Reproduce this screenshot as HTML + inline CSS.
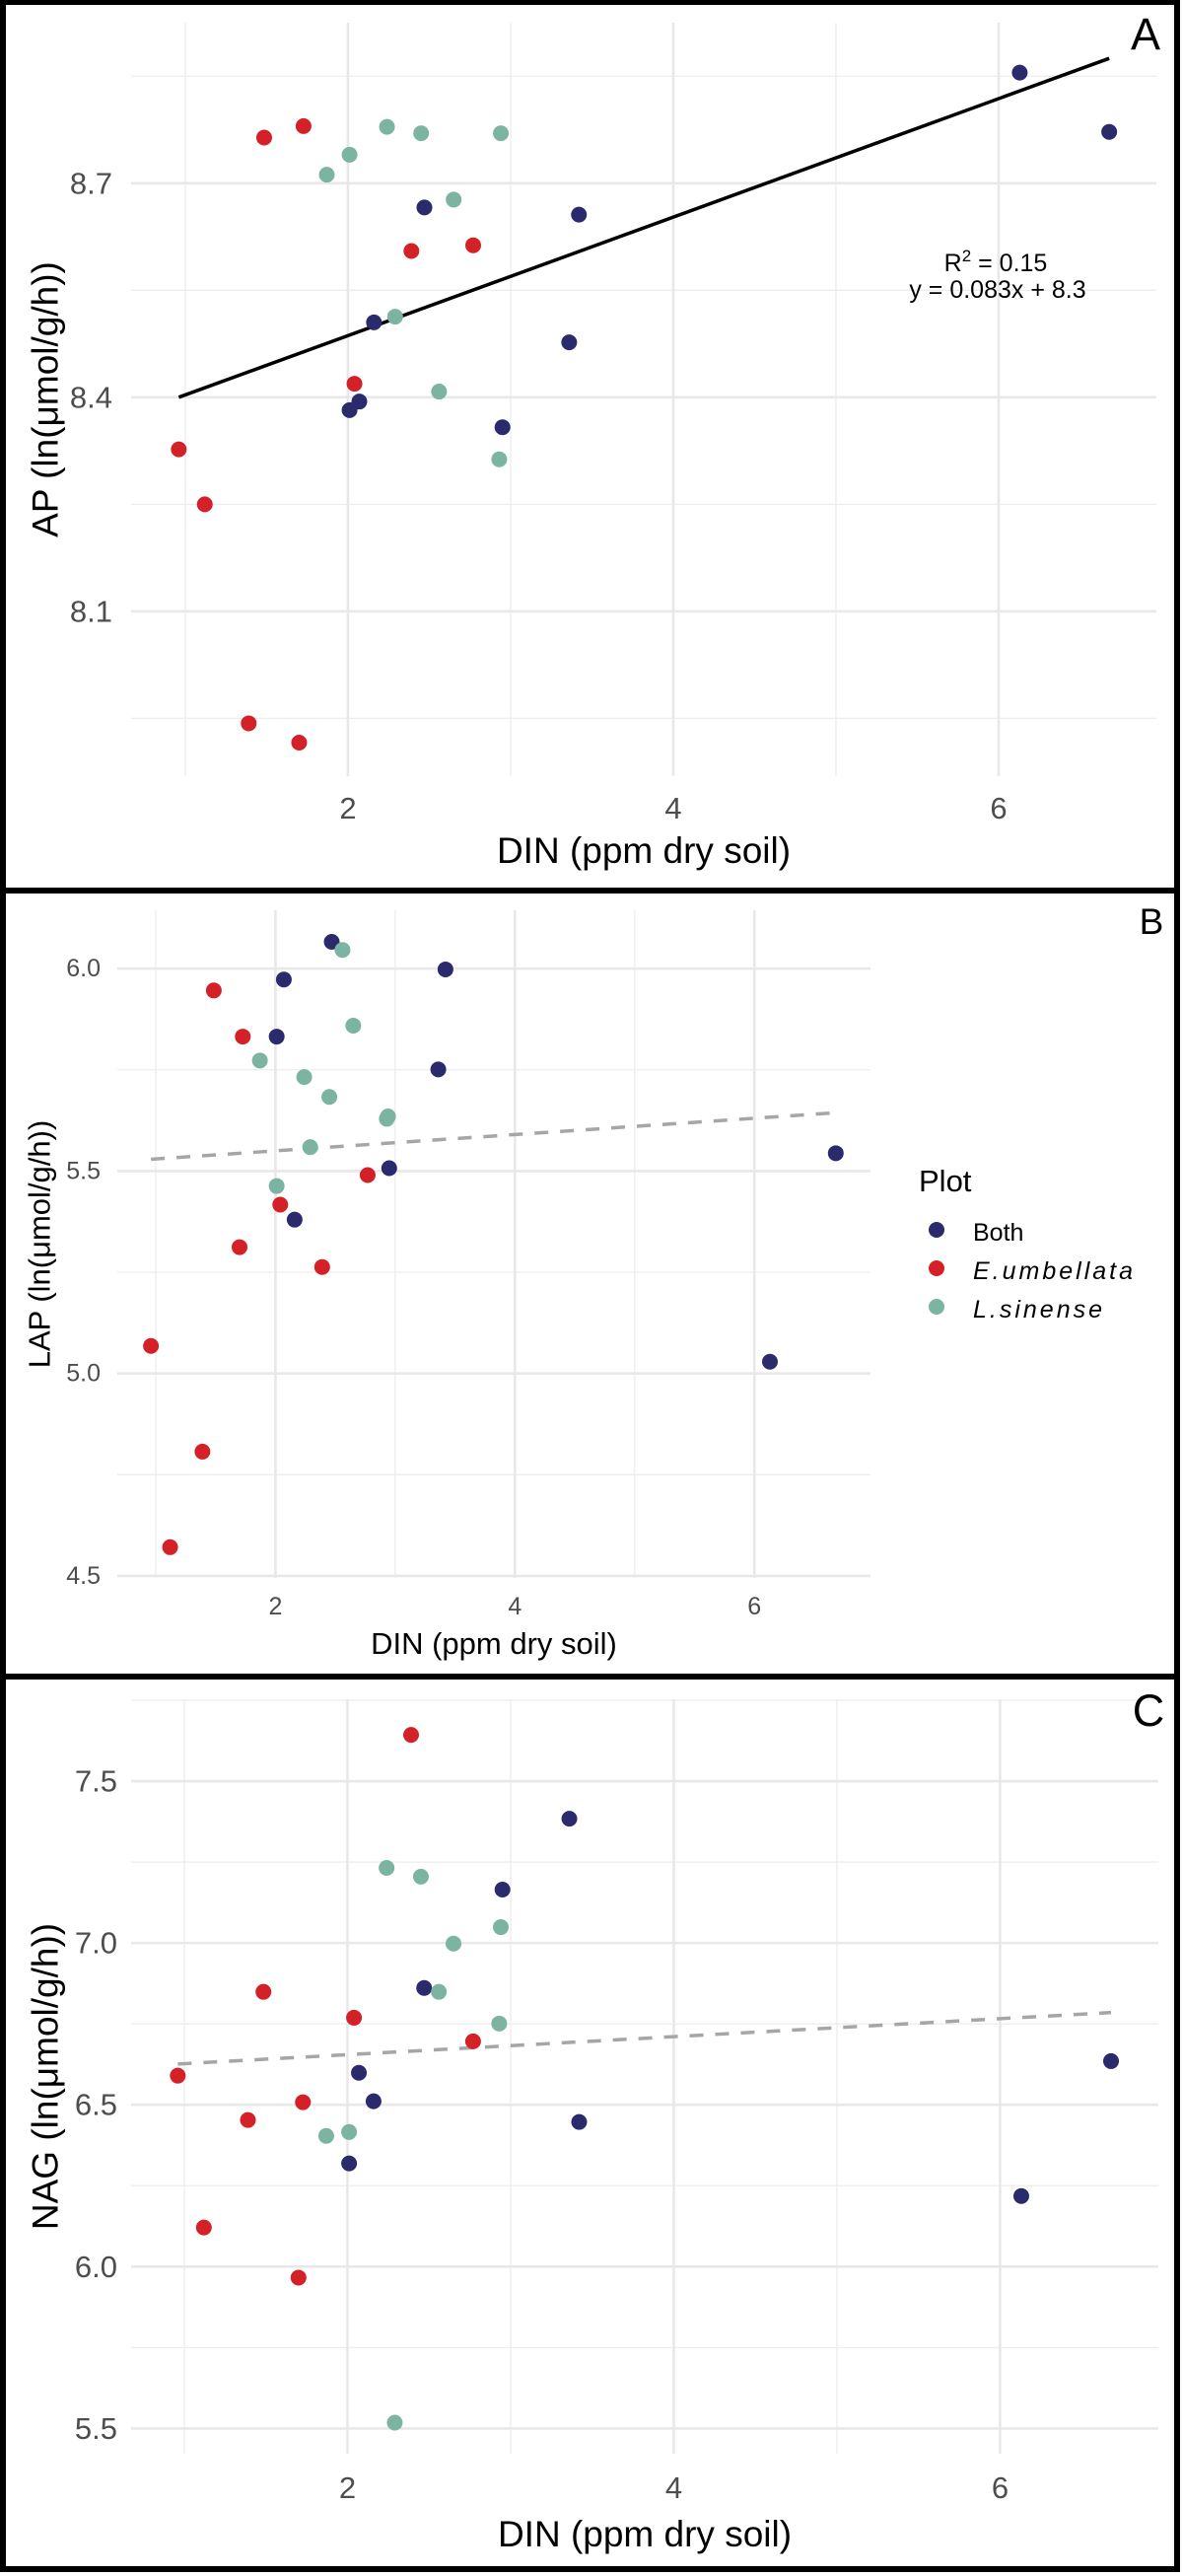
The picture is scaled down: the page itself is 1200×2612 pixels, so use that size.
<!DOCTYPE html>
<html><head><meta charset="utf-8"><title>DIN vs enzyme activity</title>
<style>
html,body{margin:0;padding:0;background:#fff;}
svg{display:block;font-family:"Liberation Sans",Arial,sans-serif;}
</style></head>
<body>
<svg id="fig" width="1200" height="2612" viewBox="0 0 1200 2612" xmlns="http://www.w3.org/2000/svg">
<rect x="0" y="0" width="1200" height="2612" fill="#fff"/>
</svg>
<script>
// ---- data (DIN per plot group; shared by all panels) ----
const dinBoth = [2.01, 2.07, 2.16, 2.47, 2.95, 3.36, 3.42, 6.13, 6.68];
const dinEumb = [0.96, 1.12, 1.39, 1.485, 1.70, 1.727, 2.04, 2.39, 2.77];
const dinLsin = [1.87, 2.01, 2.24, 2.29, 2.45, 2.56, 2.65, 2.93, 2.94];
// Panel A: AP
const apBoth = [8.382, 8.394, 8.505, 8.666, 8.358, 8.477, 8.656, 8.855, 8.772];
const apEumb = [8.327, 8.250, 7.943, 8.764, 7.916, 8.780, 8.419, 8.605, 8.613];
const apLsin = [8.712, 8.740, 8.779, 8.513, 8.770, 8.408, 8.677, 8.313, 8.770];
// Panel B: LAP
const lapBoth = [5.832, 5.973, 5.380, 6.066, 5.507, 5.751, 5.998, 5.029, 5.544];
const lapEumb = [5.068, 4.571, 4.807, 5.946, 5.312, 5.832, 5.417, 5.263, 5.490];
const lapLsin = [5.773, 5.463, 5.732, 5.559, 5.683, 6.046, 5.859, 5.629, 5.635];
// Panel C: NAG
const nagBoth = [6.319, 6.599, 6.511, 6.861, 7.165, 7.384, 6.447, 6.218, 6.635];
const nagEumb = [6.590, 6.121, 6.453, 6.849, 5.966, 6.508, 6.769, 7.643, 6.696];
const nagLsin = [6.404, 6.416, 7.232, 5.518, 7.205, 6.849, 6.998, 6.751, 7.049];
// Trend lines [x0, y0, x1, y1]
const trendA = [0.96, 8.40, 6.68, 8.875];
const trendB = [0.96, 5.529, 6.68, 5.644];
const trendC = [0.96, 6.626, 6.68, 6.785];
// Ticks
const xTicks = [2, 4, 6];
const xMinor = [1, 3, 5];
const yTicksA = [8.1, 8.4, 8.7];
const yMinorA = [7.95, 8.25, 8.55, 8.85];
const yTicksB = [4.5, 5.0, 5.5, 6.0];
const yMinorB = [4.75, 5.25, 5.75];
const yTicksC = [5.5, 6.0, 6.5, 7.0, 7.5];
const yMinorC = [5.75, 6.25, 6.75, 7.25, 7.75];
const groupNames = ["Both", "E.umbellata", "L.sinense"];

const COLORS = ["#2a2a6c", "#d42027", "#7bb4a0"];
const NS = "http://www.w3.org/2000/svg";
const svg = document.getElementById("fig");
function mk(tag, attrs, parent) {
  const e = document.createElementNS(NS, tag);
  for (const k in attrs) e.setAttribute(k, attrs[k]);
  (parent || svg).appendChild(e);
  return e;
}

function drawPanel(p) {
  const g = mk("g", {});
  
  
  const xs = v => p.left + (v - p.xmin) / (p.xmax - p.xmin) * (p.right - p.left);
  const ys = v => p.bottom - (v - p.ymin) / (p.ymax - p.ymin) * (p.bottom - p.top);
  // minor gridlines
  p.yMinor.forEach(v => {
    const l = mk("line", {x1: p.left, x2: p.right, y1: ys(v), y2: ys(v), stroke: "#ededed", "stroke-width": 1.3}, g);
    
    
  });
  xMinor.forEach(v => {
    const l = mk("line", {x1: xs(v), x2: xs(v), y1: p.top, y2: p.bottom, stroke: "#ededed", "stroke-width": 1.3}, g);
    
    
  });
  p.yTicks.forEach(v => {
    const l = mk("line", {x1: p.left, x2: p.right, y1: ys(v), y2: ys(v), stroke: "#e8e8e8", "stroke-width": 2.6}, g);
    
    
    const t = mk("text", {x: p.ytx, y: ys(v), "text-anchor": "end", "dominant-baseline": "central", "font-size": p.tickFs, fill: "#4d4d4d"}, g);
    t.textContent = v.toFixed(1);
    
    
  });
  xTicks.forEach(v => {
    const l = mk("line", {x1: xs(v), x2: xs(v), y1: p.top, y2: p.bottom, stroke: "#e8e8e8", "stroke-width": 2.6}, g);
    
    
    const t = mk("text", {x: xs(v), y: p.xty, "text-anchor": "middle", "font-size": p.tickFs, fill: "#4d4d4d"}, g);
    t.textContent = String(v);
    
    
  });
  // trend line
  const tr = p.trend;
  const ln = mk("line", {x1: xs(tr[0]), y1: ys(tr[1]), x2: xs(tr[2]), y2: ys(tr[3]),
    stroke: p.dashed ? "#a6a6a6" : "#000", "stroke-width": p.dashed ? 3.5 : 3.5,
    "stroke-dasharray": p.dashed ? "14 12" : "none"}, g);
  
  
  // points
  const sets = [[dinBoth, p.yBoth], [dinEumb, p.yEumb], [dinLsin, p.yLsin]];
  sets.forEach((s, gi) => {
    s[0].forEach((xv, i) => {
      const c = mk("circle", {cx: xs(xv), cy: ys(s[1][i]), r: 8, fill: COLORS[gi]}, g);
      
      
    });
  });
  // titles
  const xt = mk("text", {x: (p.left + p.right) / 2, y: p.xTitleY, "text-anchor": "middle", "font-size": p.titleFs, fill: "#000"}, g);
  xt.textContent = "DIN (ppm dry soil)";
  
  
  const yc = (p.top + p.bottom) / 2;
  const yt = mk("text", {x: p.yTitleX, y: yc, "text-anchor": "middle", "dominant-baseline": "central", "font-size": p.titleFs, fill: "#000",
    transform: "rotate(-90 " + p.yTitleX + " " + yc + ")"}, g);
  yt.textContent = p.yTitle;
  
  
  const lt = mk("text", {x: p.letterX, y: p.letterY, "text-anchor": "middle", "font-size": p.letterFs, fill: "#000"}, g);
  lt.textContent = p.letter;
  
  
  return {xs, ys, g};
}

const A = drawPanel({name: "panel-a", left: 133, right: 1173, top: 23, bottom: 787, xmin: 0.667, xmax: 6.97, ymin: 7.869, ymax: 8.925,
  yTicks: yTicksA, yMinor: yMinorA, yBoth: apBoth, yEumb: apEumb, yLsin: apLsin, trend: trendA, dashed: false,
  tickFs: 31, titleFs: 37, ytx: 114, xty: 830, xTitleY: 875, yTitleX: 46, yTitle: "AP (ln(μmol/g/h))",
  letter: "A", letterX: 1162, letterY: 50, letterFs: 45});
const B = drawPanel({name: "panel-b", left: 119, right: 883, top: 923, bottom: 1600, xmin: 0.679, xmax: 6.97, ymin: 4.495, ymax: 6.144,
  yTicks: yTicksB, yMinor: yMinorB, yBoth: lapBoth, yEumb: lapEumb, yLsin: lapLsin, trend: trendB, dashed: true,
  tickFs: 25, titleFs: 31, ytx: 102, xty: 1637, xTitleY: 1677, yTitleX: 40, yTitle: "LAP (ln(μmol/g/h))",
  letter: "B", letterX: 1168, letterY: 947, letterFs: 37});
const C = drawPanel({name: "panel-c", left: 133, right: 1175, top: 1723, bottom: 2488, xmin: 0.674, xmax: 6.97, ymin: 5.422, ymax: 7.753,
  yTicks: yTicksC, yMinor: yMinorC, yBoth: nagBoth, yEumb: nagEumb, yLsin: nagLsin, trend: trendC, dashed: true,
  tickFs: 31, titleFs: 37, ytx: 119, xty: 2533, xTitleY: 2582, yTitleX: 46, yTitle: "NAG (ln(μmol/g/h))",
  letter: "C", letterX: 1165, letterY: 1750, letterFs: 45});

// Panel A regression annotation
const ann = mk("text", {x: 1010, y: 275, "text-anchor": "middle", "font-size": 25, fill: "#000"}, A.g);


ann.innerHTML = 'R<tspan dy="-10" font-size="17">2</tspan><tspan dy="10"> = 0.15</tspan>';
const eq = mk("text", {x: 1012, y: 302, "text-anchor": "middle", "font-size": 25, fill: "#000"}, A.g);


eq.textContent = "y = 0.083x + 8.3";

// Legend (panel B)
const leg = mk("g", {});


const lt = mk("text", {x: 932, y: 1208, "font-size": 31, fill: "#000"}, leg);
lt.textContent = "Plot";


groupNames.forEach((n, i) => {
  const cy = 1247 + i * 39;
  const c = mk("circle", {cx: 950, cy: cy, r: 8, fill: COLORS[i]}, leg);
  
  
  const t = mk("text", {x: 987, y: cy + 11, "font-size": 25, fill: "#000"}, leg);
  if (i > 0) { t.setAttribute("font-style", "italic"); t.setAttribute("letter-spacing", "3"); }
  t.textContent = n;
  
  
});

// Panel borders
const frame = mk("g", {});


mk("rect", {x: 3, y: 2, width: 1191, height: 2603, fill: "none", stroke: "#000", "stroke-width": 6}, frame);
mk("line", {x1: 0, x2: 1197, y1: 903, y2: 903, stroke: "#000", "stroke-width": 6}, frame);
mk("line", {x1: 0, x2: 1197, y1: 1700, y2: 1700, stroke: "#000", "stroke-width": 6}, frame);
</script>
</body></html>
